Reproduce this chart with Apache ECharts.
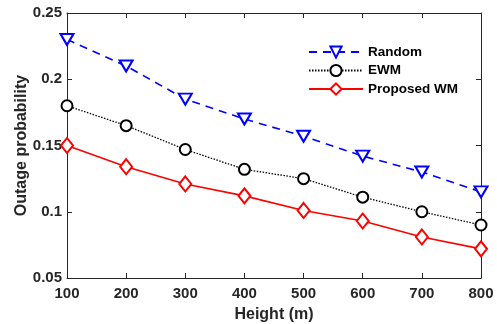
<!DOCTYPE html>
<html>
<head>
<meta charset="utf-8">
<script src="https://cdn.jsdelivr.net/npm/echarts@6/dist/echarts.min.js"></script>
<style>
  html, body { margin: 0; padding: 0; background: #fff; }
  #chart { width: 497px; height: 324px; }
</style>
</head>
<body>
<div id="chart"></div>
<script>
// Heights (m) on the x axis
const heights = [100, 200, 300, 400, 500, 600, 700, 800];

// Outage probability for each scheme
const randomVals   = [0.230, 0.210, 0.185, 0.170, 0.157, 0.142, 0.130, 0.115];
const ewmVals      = [0.180, 0.165, 0.147, 0.132, 0.125, 0.111, 0.100, 0.090];
const proposedVals = [0.150, 0.134, 0.121, 0.112, 0.101, 0.093, 0.081, 0.072];

const seriesNames = ['Random', 'EWM', 'Proposed WM'];

const FONT = '"Liberation Sans", Arial, sans-serif';
const INK = '#262626';

function pairs(vals) {
  return heights.map((h, i) => [h, vals[i]]);
}

const chart = echarts.init(document.getElementById('chart'), null, { renderer: 'canvas' });

const boxAxisLine = { show: true, onZero: false, lineStyle: { color: INK, width: 1 } };
const innerTick = { show: true, inside: true, length: 5, lineStyle: { color: INK, width: 1 } };

chart.setOption({
  animation: false,
  backgroundColor: '#ffffff',
  grid: { left: 67, right: 16, top: 13, bottom: 46, containLabel: false, outerBoundsMode: 'none' },
  legend: {
    left: 303,
    top: 40,
    orient: 'vertical',
    itemWidth: 54,
    itemHeight: 14,
    itemGap: 4.5,
    textStyle: { fontFamily: FONT, fontWeight: 'bold', fontSize: 13.5, color: '#000' },
    data: seriesNames
  },
  xAxis: [
    {
      type: 'value', min: 100, max: 800, interval: 100,
      name: 'Height (m)', nameLocation: 'middle', nameGap: 29,
      nameTextStyle: { fontFamily: FONT, fontWeight: 'bold', fontSize: 16, color: INK },
      axisLine: boxAxisLine, axisTick: innerTick,
      axisLabel: { fontFamily: FONT, fontWeight: 'bold', fontSize: 15, color: INK, margin: 8 },
      splitLine: { show: false }
    },
    {
      type: 'value', min: 100, max: 800, interval: 100, position: 'top',
      axisLine: boxAxisLine, axisTick: innerTick,
      axisLabel: { show: false }, splitLine: { show: false }
    }
  ],
  yAxis: [
    {
      type: 'value', min: 0.05, max: 0.25, interval: 0.05,
      name: 'Outage probability', nameLocation: 'middle', nameGap: 37, nameMoveOverlap: false,
      nameTextStyle: { fontFamily: FONT, fontWeight: 'bold', fontSize: 16, color: INK },
      axisLine: boxAxisLine, axisTick: innerTick,
      axisLabel: {
        fontFamily: FONT, fontWeight: 'bold', fontSize: 15, color: INK, margin: 5,
        formatter: v => String(parseFloat(v.toFixed(2)))
      },
      splitLine: { show: false }
    },
    {
      type: 'value', min: 0.05, max: 0.25, interval: 0.05, position: 'right',
      axisLine: boxAxisLine, axisTick: innerTick,
      axisLabel: { show: false }, splitLine: { show: false }
    }
  ],
  series: [
    {
      name: seriesNames[0], type: 'line', data: pairs(randomVals),
      symbol: 'emptyTriangle', symbolRotate: 180, symbolSize: [13, 11],
      lineStyle: { color: '#0000ff', width: 1.6, type: [8, 6] },
      itemStyle: { color: '#0000ff', borderWidth: 1.6 }, z: 3
    },
    {
      name: seriesNames[1], type: 'line', data: pairs(ewmVals),
      symbol: 'emptyCircle', symbolSize: 11,
      lineStyle: { color: '#000000', width: 1.3, type: [1.5, 1.5] },
      itemStyle: { color: '#000000', borderWidth: 1.6 }, z: 3
    },
    {
      name: seriesNames[2], type: 'line', data: pairs(proposedVals),
      symbol: 'emptyDiamond', symbolSize: [12, 15],
      lineStyle: { color: '#ff0000', width: 1.6 },
      itemStyle: { color: '#ff0000', borderWidth: 1.6 }, z: 3
    }
  ]
});
</script>
</body>
</html>
